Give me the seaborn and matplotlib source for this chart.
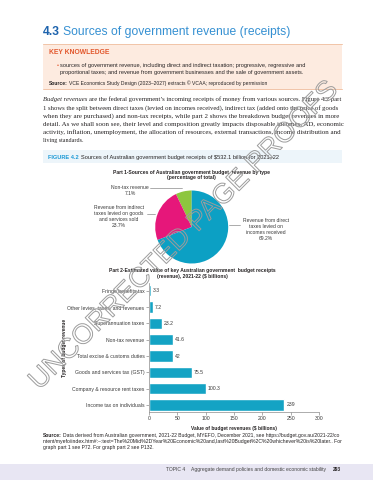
import matplotlib
matplotlib.use('Agg')
import matplotlib.pyplot as plt
import matplotlib.patheffects as pe
from matplotlib.patches import Rectangle
from matplotlib.transforms import Affine2D
import pandas as pd
import seaborn as sns

sns.set_style("ticks")
plt.rcParams['font.family'] = ['Liberation Sans', 'DejaVu Sans']

# part 1 - budget revenue by type (% of total)
pie_names = ['Non-tax revenue', 'Revenue from indirect taxes', 'Revenue from direct taxes']
pie_values = [7.1, 23.7, 69.2]
pie_colors = ['#8dc63f', '#e6177a', '#0ca0c4']

# part 2 - key budget receipts 2021-22 ($ billions), top to bottom
bar_names = ['Fringe benefits tax', 'Other levies, taxes, and revenues', 'Superannuation taxes',
             'Non-tax revenue', 'Total excise & customs duties', 'Goods and services tax (GST)',
             'Company & resource rent taxes', 'Income tax on individuals']
bar_values = [3.3, 7.2, 23.2, 41.6, 42, 75.5, 100.3, 239]
x_ticks = [0, 50, 100, 150, 200, 250, 300]
bar_color = '#14a3c4'

W, H = 373, 480
INK = '#262324'
fig = plt.figure(figsize=(W / 100, H / 100), dpi=100)
# pixel coords of the page, y going down
px = Affine2D().scale(1 / W, -1 / H).translate(0, 1) + fig.transFigure
rend = fig.canvas.get_renderer()


def width_of(s, size, **kw):
    t = fig.text(0, 0, s, fontsize=size, **kw)
    w = t.get_window_extent(rend).width
    t.remove()
    return w


def fit(s, w, **kw):
    size = 10 * w / width_of(s, 10, **kw)
    for _ in range(2):
        size *= w / width_of(s, size, **kw)
    return size


def space(size, family):
    return size * 100 / 72 * (0.25 if 'Serif' in family else 0.278)


def line(x, y, segs, size, width=None, family='Liberation Sans', color=INK, ha='left'):
    # segs = [(text, props)], each drawn as one string; width -> squeeze/stretch the line to it
    props = []
    for t, kw in segs:
        p = dict(color=color, family=family)
        p.update(kw)
        props.append(p)

    def total(sz):
        return sum(width_of(t, sz, **p) for (t, _), p in zip(segs, props)) + space(sz, family) * (len(segs) - 1)

    if width:
        for _ in range(3):
            size *= width / total(size)
    tot = total(size)
    if ha == 'center':
        x -= tot / 2
    elif ha == 'right':
        x -= tot
    base = y + 0.3 * size * 100 / 72
    for (t, _), p in zip(segs, props):
        fig.text(x, base, t, transform=px, fontsize=size, va='baseline', zorder=3, **p)
        x += width_of(t, size, **p) + space(size, family)


B = {'fontweight': 'bold'}

# ---- header
title = '4.3 Sources of government revenue (receipts)'
s = fit(title, 245.6)
line(42.7, 31.7, [('4.3', dict(fontweight='bold', color='#1d63ad')),
                  ('Sources of government revenue (receipts)', dict(color='#3590d2'))], s)

fig.add_artist(Rectangle((42.7, 43.5), 299, 45.5, transform=px, fc='#fdebe0', ec='none', zorder=1))
for yy in (43.5, 89):
    fig.add_artist(plt.Line2D([42.7, 341.7], [yy, yy], transform=px, color='#f1c4a8', lw=0.7, zorder=2))
s = fit('KEY KNOWLEDGE', 60, fontweight='bold')
line(49, 52.3, [('KEY KNOWLEDGE', dict(fontweight='bold', color='#e2572c'))], s)
bul = ['sources of government revenue, including direct and indirect taxation; progressive, regressive and',
       'proportional taxes; and revenue from government businesses and the sale of government assets.']
s = fit(bul[0], 246)
fig.text(56.5, 65.7 + 0.3 * s * 100 / 72, '•', transform=px, fontsize=s, color='#e2572c', va='baseline')
line(60, 65.7, [(bul[0], {})], s)
line(60, 72.7, [(bul[1], {})], s)
src = 'Source: VCE Economics Study Design (2023–2027) extracts © VCAA; reproduced by permission'
s = fit(src, 216.7)
line(49, 83.3, [('Source:', B), (src[8:], {})], s)

# ---- body paragraph
para = ['are the federal government’s incoming receipts of money from various sources. Figure 4.2 part',
        '1 shows the split between direct taxes (levied on incomes received), indirect tax (added onto the price of goods',
        'when they are purchased) and non-tax receipts, while part 2 shows the breakdown budget revenues in more',
        'detail. As we shall soon see, their level and composition greatly impacts disposable incomes, AD, economic',
        'activity, inflation, unemployment, the allocation of resources, external transactions, income distribution and',
        'living standards.']
s = fit('living standards.', 40.7, family='Liberation Serif')
for i, t in enumerate(para):
    segs = [(t, {})]
    if i == 0:
        segs = [('Budget revenues', {'style': 'italic'})] + segs
    line(42.7, 99.3 + i * 8.2, segs, s, width=298 if i < 5 else None, family='Liberation Serif')

# ---- figure caption
fig.add_artist(Rectangle((42.7, 150), 299, 13.3, transform=px, fc='#edf5fa', ec='none', zorder=1))
cap = 'Sources of Australian government budget receipts of $532.1 billion for 2021–22'
s = fit('FIGURE 4.2 ' + cap, 231)
line(48.3, 157.3, [('FIGURE 4.2', dict(fontweight='bold', color='#1e9ad6')), (cap, {})], s)

# ---- part 1 pie
cx, cy, r = 191.7, 227, 36.5
ax1 = fig.add_axes([(cx - r) / W, 1 - (cy + r) / H, 2 * r / W, 2 * r / H])
ax1.pie(pie_values, colors=pie_colors, startangle=90, counterclock=True, wedgeprops=dict(linewidth=0))
ax1.set_xlim(-1, 1)
ax1.set_ylim(-1, 1)
ax1.axis('off')

pt1 = 'Part 1-Sources of Australian government budget  revenue by type'
s = fit(pt1, 157.3, fontweight='bold')
line(191.3, 172.3, [(pt1, B)], s, ha='center')
line(191.3, 177.9, [('(percentage of total)', B)], s, ha='center')

s = fit('Revenue from indirect', 49.7)
pie_text = [
    (130, 187.7, ['Non-tax revenue', f'{pie_values[0]}%']),
    (119, 208, ['Revenue from indirect', 'taxes levied on goods', 'and services sold', f'{pie_values[1]}%']),
    (265.7, 220.3, ['Revenue from direct', 'taxes levied on', 'incomes received', f'{pie_values[2]}%']),
]
for x0, y0, rows in pie_text:
    for j, t in enumerate(rows):
        line(x0, y0 + j * 6, [(t, {})], s, ha='center', color='#3a3a3a')
for xs, ys in [([150, 182], [187.7, 187.7]), ([147, 155], [214, 214]), ([228.5, 240], [225, 225])]:
    fig.add_artist(plt.Line2D(xs, ys, transform=px, color='#8a8a8a', lw=0.5, zorder=2))

# ---- part 2 bars
pt2 = 'Part 2-Estimated value of key Australian government  budget receipts'
s = fit(pt2, 166.7, fontweight='bold')
line(192, 270, [(pt2, B)], s, ha='center')
line(192, 276, [('(revenue), 2021-22 ($ billions)', B)], s, ha='center')

top, bot = 283.4, 411.5
ax2 = fig.add_axes([149 / W, 1 - bot / H, 170 / W, (bot - top) / H])
df = pd.DataFrame({'name': bar_names, 'value': bar_values})
sns.barplot(data=df, x='value', y='name', color=bar_color, saturation=1, width=0.69,
            errorbar=None, ax=ax2)
ax2.set_xlim(0, 300)
ax2.set_ylim(7.4, -0.45)
ax2.set_xticks(x_ticks)
ax2.set_facecolor('none')
sns.despine(ax=ax2)
for sp in ('left', 'bottom'):
    ax2.spines[sp].set_color('#8c8c8c')
    ax2.spines[sp].set_linewidth(0.5)
s_tick = fit('Income tax on individuals', 57.7)
ax2.tick_params(length=2, width=0.5, color='#8c8c8c', labelsize=s_tick, pad=1.2, labelcolor='#3a3a3a')
ax2.bar_label(ax2.containers[0], labels=[f'{v:g}' for v in bar_values], padding=1.5,
              fontsize=s_tick, color='#3a3a3a')
xl = 'Value of budget revenues ($ billions)'
ax2.set_xlabel(xl, fontsize=fit(xl, 86.7, fontweight='bold'), fontweight='bold', color=INK)
ax2.xaxis.set_label_coords(0.5, -(428.3 - bot) / (bot - top))
ax2.xaxis.label.set_va('center')
yl = 'Types of budget revenue'
ax2.set_ylabel(yl, fontsize=fit(yl, 58, fontweight='bold'), fontweight='bold', color=INK)
ax2.yaxis.set_label_coords((66.7 - 149) / 170, 0.5)

# ---- source + footer band
foot = ['Data derived from Australian government, 2021-22 Budget, MYEFO, December 2021, see https://budget.gov.au/2021-22/co',
        'ntent/myefo/index.htm#:~:text=The%20Mid%2DYear%20Economic%20and,last%20Budget%2C%20whichever%20is%20later.. For',
        'graph part 1 see P72. For graph part 2 see P132.']
s = fit(foot[2], 109)
line(42.7, 435.7, [('Source:', B), (foot[0], {})], s, width=298)
line(42.7, 441.7, [(foot[1], {})], s, width=298)
line(42.7, 447.7, [(foot[2], {})], s)

fig.add_artist(Rectangle((0, 464), W, 16, transform=px, fc='#e8e6f3', ec='none', zorder=1))
band = 'Aggregate demand policies and domestic economic stability'
s = fit(band, 136)
line(165.7, 469.5, [('TOPIC 4', {})], s, color='#444444')
line(190.7, 469.5, [(band, {})], s, color='#444444')
line(340.7, 469.5, [('293', B)], s, ha='right')

# ---- proof watermark
fig.text(184, 236, 'UNCORRECTED PAGE PROOFS', transform=px, rotation=45, rotation_mode='anchor',
         ha='center', va='center', fontsize=20, color='none', zorder=10,
         path_effects=[pe.Stroke(linewidth=0.7, foreground='#9c9c9c')])

fig.savefig('out.png', dpi=100, facecolor='white')
